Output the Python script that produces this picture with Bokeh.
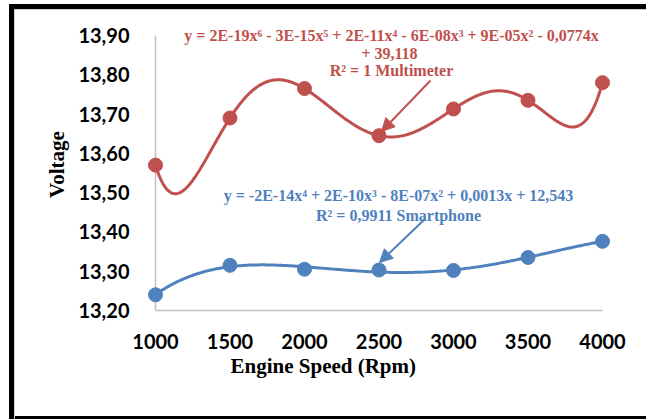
import numpy as np
from bokeh.plotting import figure
from bokeh.models import (Range1d, FixedTicker, CustomJSTickFormatter, Label,
                          Arrow, NormalHead, Title)
from bokeh.embed import file_html
from bokeh.resources import INLINE

# ---- data ----
rpm = [1000, 1500, 2000, 2500, 3000, 3500, 4000]
multimeter = [13.57, 13.69, 13.765, 13.645, 13.713, 13.735, 13.78]
smartphone = [13.24, 13.315, 13.305, 13.303, 13.302, 13.335, 13.376]
y_ticks = [13.2, 13.3, 13.4, 13.5, 13.6, 13.7, 13.8, 13.9]
x_ticks = rpm

red = "#C0504D"
blue = "#4F81BD"
axis_grey = "#BFBFBF"

# trendlines (Excel-style polynomial fits of the data)
xs = np.linspace(rpm[0], rpm[-1], 300)
fit_red = np.polynomial.Polynomial.fit(rpm, multimeter, 6)
fit_blue = np.polynomial.Polynomial.fit(rpm, smartphone, 4)

# ---- layout geometry (page pixels) ----
W, H = 646, 419
X0_PX, X1_PX = 155, 602      # where 1000 and 4000 sit
Y0_PX, Y1_PX = 310, 35       # where 13.20 and 13.90 sit
PAD_PX = 10
TOP_PX = 18                  # frame top (room for the equation text)
pad = (rpm[-1] - rpm[0]) * PAD_PX / (X1_PX - X0_PX)

def px_x(px):
    return rpm[0] + (px - X0_PX) * (rpm[-1] - rpm[0]) / (X1_PX - X0_PX)

def px_y(py):
    return y_ticks[0] + (Y0_PX - py) * (y_ticks[-1] - y_ticks[0]) / (Y0_PX - Y1_PX)

p = figure(width=W, height=H, output_backend="svg", toolbar_location=None,
           x_range=Range1d(rpm[0] - pad, rpm[-1] + pad),
           y_range=Range1d(y_ticks[0], px_y(TOP_PX)),
           min_border_left=X0_PX - PAD_PX, min_border_right=W - (X1_PX + PAD_PX),
           min_border_top=TOP_PX, min_border_bottom=H - Y0_PX,
           border_fill_color=None, background_fill_color=None,
           outline_line_color=None)
p.styles = {
    "background-color": "white",
    "box-shadow": ("inset 9px 4px 0 0 white, inset 14px 9px 0 0 black, "
                   "inset 15px 10px 0 0 #d0d0d0, inset 0 -3px 0 0 black"),
}

p.xgrid.visible = False
p.ygrid.visible = False

# axes
p.xaxis.ticker = FixedTicker(ticks=x_ticks)
p.xaxis.formatter = CustomJSTickFormatter(code="return tick.toFixed(0)")
p.xaxis.bounds = (rpm[0], rpm[-1])
p.yaxis.ticker = FixedTicker(ticks=y_ticks)
p.yaxis.formatter = CustomJSTickFormatter(code="return tick.toFixed(2).replace('.', ',')")
for ax in (p.xaxis[0], p.yaxis[0]):
    ax.major_tick_line_color = None
    ax.minor_tick_line_color = None
    ax.major_label_text_font = "Lato"
    ax.major_label_text_font_style = "bold"
    ax.major_label_text_font_size = "20px"
    ax.major_label_text_color = "black"
p.xaxis.axis_line_color = axis_grey
p.xaxis.axis_line_width = 1.5
p.xaxis.major_label_standoff = 17
p.yaxis.axis_line_color = None
p.yaxis.major_label_standoff = 10
p.yaxis.axis_label = "Voltage"
p.yaxis.axis_label_text_font = "Liberation Serif"
p.yaxis.axis_label_text_font_style = "bold"
p.yaxis.axis_label_text_font_size = "21px"
p.yaxis.axis_label_text_color = "black"
p.yaxis.axis_label_standoff = 6

# vertical axis line through x = 1000, from 13,20 to 13,90
p.segment(x0=[rpm[0]], y0=[y_ticks[0]], x1=[rpm[0]], y1=[y_ticks[-1]],
          line_color=axis_grey, line_width=1.5, level="underlay")

# series
p.line(xs, fit_red(xs), line_color=red, line_width=3)
p.scatter(rpm, multimeter, size=14, fill_color=red, line_color=red)
p.line(xs, fit_blue(xs), line_color=blue, line_width=3)
p.scatter(rpm, smartphone, size=14, fill_color=blue, line_color=blue)

# x axis title (left-shifted like the reference)
p.add_layout(Title(text="Engine Speed (Rpm)", align="left", offset=85,
                   text_font="Liberation Serif", text_font_style="bold",
                   text_font_size="21px", text_color="black", standoff=0),
             "below")

# trendline labels
def note(text, cx, cy, color):
    p.add_layout(Label(x=px_x(cx), y=px_y(cy), text=text,
                       text_font="Liberation Serif", text_font_style="bold",
                       text_font_size="16px", text_align="center",
                       text_baseline="middle", text_color=color))

note("y = 2E-19x\u2076 - 3E-15x\u2075 + 2E-11x\u2074 - 6E-08x\u00b3 + 9E-05x\u00b2 - 0,0774x",
     391, 35, red)
note("+ 39,118", 389, 53, red)
note("R\u00b2 = 1 Multimeter", 391, 70, red)
note("y = -2E-14x\u2074 + 2E-10x\u00b3 - 8E-07x\u00b2 + 0,0013x + 12,543", 398, 195, blue)
note("R\u00b2 = 0,9911 Smartphone", 398, 215, blue)

# arrows
p.add_layout(Arrow(end=NormalHead(size=13, fill_color=red, line_color=red),
                   x_start=px_x(430), y_start=px_y(80),
                   x_end=px_x(381), y_end=px_y(131),
                   line_color=red, line_width=2))
p.add_layout(Arrow(end=NormalHead(size=13, fill_color=blue, line_color=blue),
                   x_start=px_x(425), y_start=px_y(218),
                   x_end=px_x(379), y_end=px_y(262),
                   line_color=blue, line_width=2))

open("out.html", "w").write(file_html(p, INLINE))
